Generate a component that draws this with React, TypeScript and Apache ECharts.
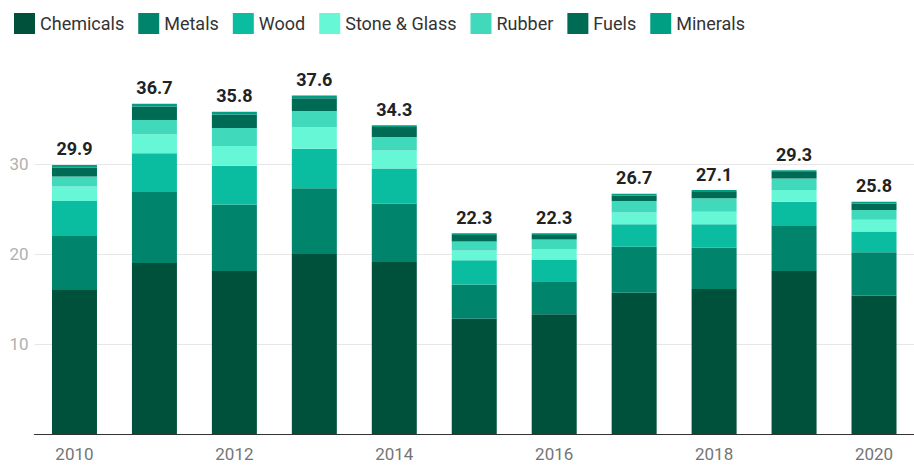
import React, { useEffect, useRef } from "react";
import * as echarts from "echarts";

const years = ["2010", "2011", "2012", "2013", "2014", "2015", "2016", "2017", "2018", "2019", "2020"];
const chemicals = [16.0, 19.0, 18.1, 20.0, 19.1, 12.8, 13.3, 15.7, 16.1, 18.1, 15.4];
const metals = [6.0, 7.9, 7.4, 7.3, 6.5, 3.8, 3.6, 5.1, 4.6, 5.1, 4.8];
const wood = [3.9, 4.3, 4.3, 4.4, 3.9, 2.7, 2.5, 2.5, 2.6, 2.6, 2.3];
const stoneGlass = [1.6, 2.1, 2.2, 2.4, 2.0, 1.1, 1.1, 1.3, 1.4, 1.3, 1.3];
const rubber = [1.1, 1.6, 2.0, 1.8, 1.5, 1.0, 1.1, 1.3, 1.5, 1.3, 1.1];
const fuels = [1.0, 1.5, 1.5, 1.4, 1.1, 0.7, 0.5, 0.6, 0.7, 0.7, 0.7];
const minerals = [0.3, 0.3, 0.3, 0.3, 0.2, 0.2, 0.2, 0.2, 0.2, 0.2, 0.2];
const totals = ["29.9", "36.7", "35.8", "37.6", "34.3", "22.3", "22.3", "26.7", "27.1", "29.3", "25.8"];

const seriesDefs = [
  { name: "Chemicals", data: chemicals, color: "#00513B" },
  { name: "Metals", data: metals, color: "#00846B" },
  { name: "Wood", data: wood, color: "#0BBDA0" },
  { name: "Stone & Glass", data: stoneGlass, color: "#66F7D6" },
  { name: "Rubber", data: rubber, color: "#41D9BC" },
  { name: "Fuels", data: fuels, color: "#006B55" },
  { name: "Minerals", data: minerals, color: "#009E82" },
];

export default function App() {
  const ref = useRef<HTMLDivElement>(null);
  useEffect(() => {
    if (!ref.current) return;
    const chart = echarts.init(ref.current, null, { renderer: "svg" });
    const font = "Roboto";
    chart.setOption({
      animation: false,
      textStyle: { fontFamily: font },
      legend: {
        left: 9,
        top: 8,
        itemWidth: 21,
        itemHeight: 21,
        itemGap: 14,
        icon: "rect",
        textStyle: { fontSize: 18, color: "#333", fontFamily: font },
        data: seriesDefs.map((s) => s.name),
      },
      grid: { left: 34.5, width: 890.5, top: 74, bottom: 31, containLabel: false },
      xAxis: {
        type: "category",
        data: years,
        axisTick: { show: false },
        axisLine: { lineStyle: { color: "#333", width: 1.2 } },
        axisLabel: { interval: 1, fontSize: 17, color: "#757575", margin: 11, fontFamily: font },
      },
      yAxis: {
        type: "value",
        min: 0,
        max: 40,
        interval: 10,
        axisLine: { show: false },
        axisTick: { show: false },
        axisLabel: {
          fontSize: 17,
          color: "#b0b0b0",
          margin: 6,
          showMinLabel: false,
          showMaxLabel: false,
          fontFamily: font,
        },
        splitLine: {
          showMinLine: false,
          showMaxLine: false,
          lineStyle: { color: "#e6e6e6", width: 1.2 },
        },
      },
      series: seriesDefs.map((s, i) => ({
        name: s.name,
        type: "bar",
        stack: "total",
        barWidth: 45,
        data: s.data,
        itemStyle: { color: s.color },
        label:
          i === seriesDefs.length - 1
            ? {
                show: true,
                position: "top",
                distance: 7,
                fontSize: 18,
                fontWeight: "bold",
                color: "#222",
                fontFamily: font,
                formatter: (p: any) => totals[p.dataIndex],
              }
            : { show: false },
      })),
    });
    return () => chart.dispose();
  }, []);
  return <div ref={ref} style={{ width: 914, height: 465, position: "absolute", left: 0, top: 0 }} />;
}
